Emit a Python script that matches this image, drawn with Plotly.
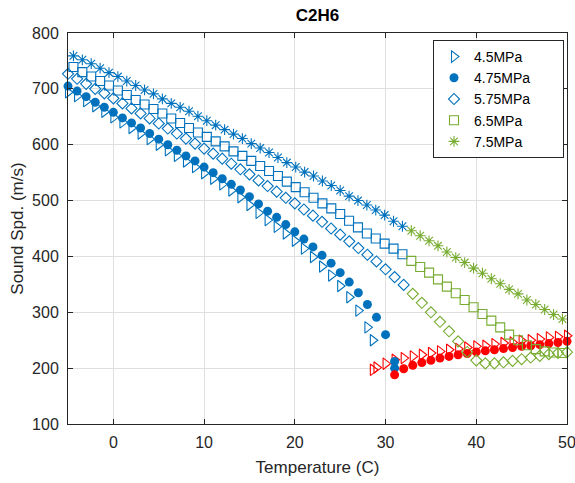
import plotly.graph_objects as go

BLUE = "#0072BD"
GREEN = "#77AC30"
RED = "#FF0000"

# 4.5 MPa
tri_liq_T = [-5, -4, -3, -2, -1, 0, 1, 2, 3, 4, 5, 6, 7, 8, 9, 10, 11, 12, 13, 14, 15, 16,
             17, 18, 19, 20, 21, 22, 23, 24, 25, 26, 27, 28, 28.6]
tri_liq_v = [694, 687, 678, 669, 659, 649, 640, 630, 620, 610, 600, 590, 580, 570, 560, 549,
             539, 529, 518, 506, 492, 478, 465, 453, 441, 428, 414, 399, 382, 366, 347, 327,
             303, 273, 250]
tri_gas_T = [28.6, 29, 30, 31, 32, 33, 34, 35, 36, 37, 38, 39, 40, 41, 42, 43, 44, 45, 46,
             47, 48, 49, 50]
tri_gas_v = [197, 201, 208, 215, 218, 221, 224, 227, 230, 233, 234.5, 237, 239, 240, 243,
             245, 246, 249, 250, 252, 255, 256, 258]

# 4.75 MPa
circ_liq_T = [-5, -4, -3, -2, -1, 0, 1, 2, 3, 4, 5, 6, 7, 8, 9, 10, 11, 12, 13, 14, 15, 16,
              17, 18, 19, 20, 21, 22, 23, 24, 25, 26, 27, 28, 29, 30, 31, 31]
circ_liq_v = [705, 696, 686, 676, 667, 658, 648, 639, 630, 620, 610, 600, 590, 580, 571, 560,
              550, 539, 529, 519, 507, 494, 481, 470, 457, 444, 431, 417, 402, 388, 371, 354,
              335, 314, 291, 260, 212, 200]
circ_gas_T = [31, 32, 33, 34, 35, 36, 37, 38, 39, 40, 41, 42, 43, 44, 45, 46, 47, 48, 49, 50]
circ_gas_v = [188, 199, 205, 210, 214, 218, 221, 224, 226, 229, 231, 233, 235, 237, 239, 240,
              242, 244, 246, 248]

# 5.75 MPa
dia_liq_T = [-5, -4, -3, -2, -1, 0, 1, 2, 3, 4, 5, 6, 7, 8, 9, 10, 11, 12, 13, 14, 15, 16,
             17, 18, 19, 20, 21, 22, 23, 24, 25, 26, 27, 28, 29, 30, 31, 32]
dia_liq_v = [727, 718, 709, 700, 692, 683, 674, 665, 656, 647, 638, 629, 620, 611, 602, 593,
             584, 575, 566, 556, 547, 536, 526, 516, 505, 495, 484, 473, 462, 450, 439, 427,
             415, 403, 391, 377, 363, 349]
dia_gas_T = [33, 34, 35, 36, 37, 38, 39, 40, 41, 42, 43, 44, 45, 46, 47, 48, 49, 50]
dia_gas_v = [333, 317, 300, 283, 266, 248, 229, 214, 208.5, 208.5, 210.5, 213, 216, 219, 222,
             225, 227, 228.6]

# 6.5 MPa and 7.5 MPa share a temperature grid
hp_liq_T = [-4.4, -3.42, -2.44, -1.46, -0.48, 0.5, 1.48, 2.46, 3.44, 4.42, 5.4, 6.38, 7.36,
            8.34, 9.32, 10.3, 11.28, 12.26, 13.24, 14.22, 15.2, 16.18, 17.16, 18.14, 19.12,
            20.1, 21.08, 22.06, 23.04, 24.02, 25.0, 25.98, 26.96, 27.94, 28.92, 29.9, 30.88,
            31.86]
hp_gas_T = [32.84, 33.82, 34.8, 35.78, 36.76, 37.74, 38.72, 39.7, 40.68, 41.66, 42.64, 43.62,
            44.6, 45.58, 46.56, 47.54, 48.52, 49.5]

sq_liq_v = [739, 730, 722, 714, 706, 697, 689, 680, 672, 664, 656, 647, 639, 630, 622, 614,
            606, 597, 588, 580, 571, 562, 553, 544, 534, 524, 515, 505, 495, 486, 476, 464,
            452, 441, 432, 423, 414, 404]
sq_gas_v = [392, 381, 371, 359, 346, 334, 322, 309, 297, 285, 273, 260, 250, 241, 234, 230,
            228, 227]

st_liq_v = [759, 752, 745, 737, 729, 722, 714, 706, 698, 691, 682, 674, 667, 660, 651, 643,
            635, 627, 619, 611, 602, 594, 586, 577, 568, 560, 551, 544, 535, 527, 518, 508,
            500, 492, 483, 474, 463, 454]
st_gas_v = [446, 437, 428, 419, 408, 398, 389, 379, 370, 360, 351, 341, 333, 322, 314, 305,
            296, 288]

x_ticks = [0, 10, 20, 30, 40, 50]
y_ticks = [100, 200, 300, 400, 500, 600, 700, 800]

FONT = "Liberation Sans, Arial, sans-serif"
PAD = "\u00a0" * 7

fig = go.Figure()


def add(x, y, symbol, color, size, name=None, rank=None, lw=1.1):
    fig.add_trace(go.Scatter(
        x=x, y=y, mode="markers", cliponaxis=False,
        name=(name + PAD) if name else "", showlegend=name is not None,
        legendrank=rank if rank else 1000,
        marker=dict(symbol=symbol, size=size, color=color,
                    line=dict(color=color, width=lw)),
    ))


add(tri_liq_T, tri_liq_v, "triangle-right-open", BLUE, 10, name="4.5MPa", rank=1)
add(tri_gas_T, tri_gas_v, "triangle-right-open", RED, 10)
add(circ_liq_T, circ_liq_v, "circle", BLUE, 9, name="4.75MPa", rank=2, lw=0)
add(circ_gas_T, circ_gas_v, "circle", RED, 9, lw=0)
add(dia_liq_T, dia_liq_v, "diamond-open", BLUE, 8.5, name="5.75MPa", rank=3)
add(dia_gas_T, dia_gas_v, "diamond-open", GREEN, 8.5)
add(hp_liq_T, sq_liq_v, "square-open", BLUE, 9)
add(hp_gas_T, sq_gas_v, "square-open", GREEN, 9, name="6.5MPa", rank=4)
add(hp_liq_T, st_liq_v, "asterisk-open", BLUE, 9)
add(hp_gas_T, st_gas_v, "asterisk-open", GREEN, 9, name="7.5MPa", rank=5)

axis_common = dict(
    showline=True, mirror="ticks", linecolor="#262626", linewidth=1,
    ticks="inside", ticklen=5, tickcolor="#262626", automargin=False,
    showgrid=True, gridcolor="#DFDFDF", gridwidth=1, zeroline=False,
    ticklabeloverflow="allow",
    tickfont=dict(family=FONT, size=16, color="#262626"),
)

fig.update_layout(
    width=575, height=483,
    margin=dict(l=68, r=8, t=33, b=59, autoexpand=False),
    paper_bgcolor="white", plot_bgcolor="white",
    title=dict(text="<b>C2H6</b>", x=(68 + 567) / 2 / 575, xanchor="center",
               y=1 - 15 / 483, yanchor="middle",
               font=dict(family=FONT, size=17, color="#000000")),
    xaxis=dict(range=[-5, 50], tickvals=x_ticks, ticklabelstandoff=4,
               title=dict(text="Temperature (C)", standoff=10,
                          font=dict(family=FONT, size=17, color="#262626")),
               **axis_common),
    yaxis=dict(range=[100, 800], tickvals=y_ticks, ticklabelstandoff=5,
               title=dict(text="Sound Spd. (m/s)", standoff=4,
                          font=dict(family=FONT, size=17, color="#262626")),
               **axis_common),
    legend=dict(xref="container", yref="container",
                x=433 / 575, xanchor="left", y=1 - 40 / 483, yanchor="top",
                bgcolor="white", bordercolor="#262626", borderwidth=1,
                font=dict(family=FONT, size=14, color="#000000"),
                itemsizing="trace", tracegroupgap=0),
    showlegend=True,
)

fig.write_html("out.html")
